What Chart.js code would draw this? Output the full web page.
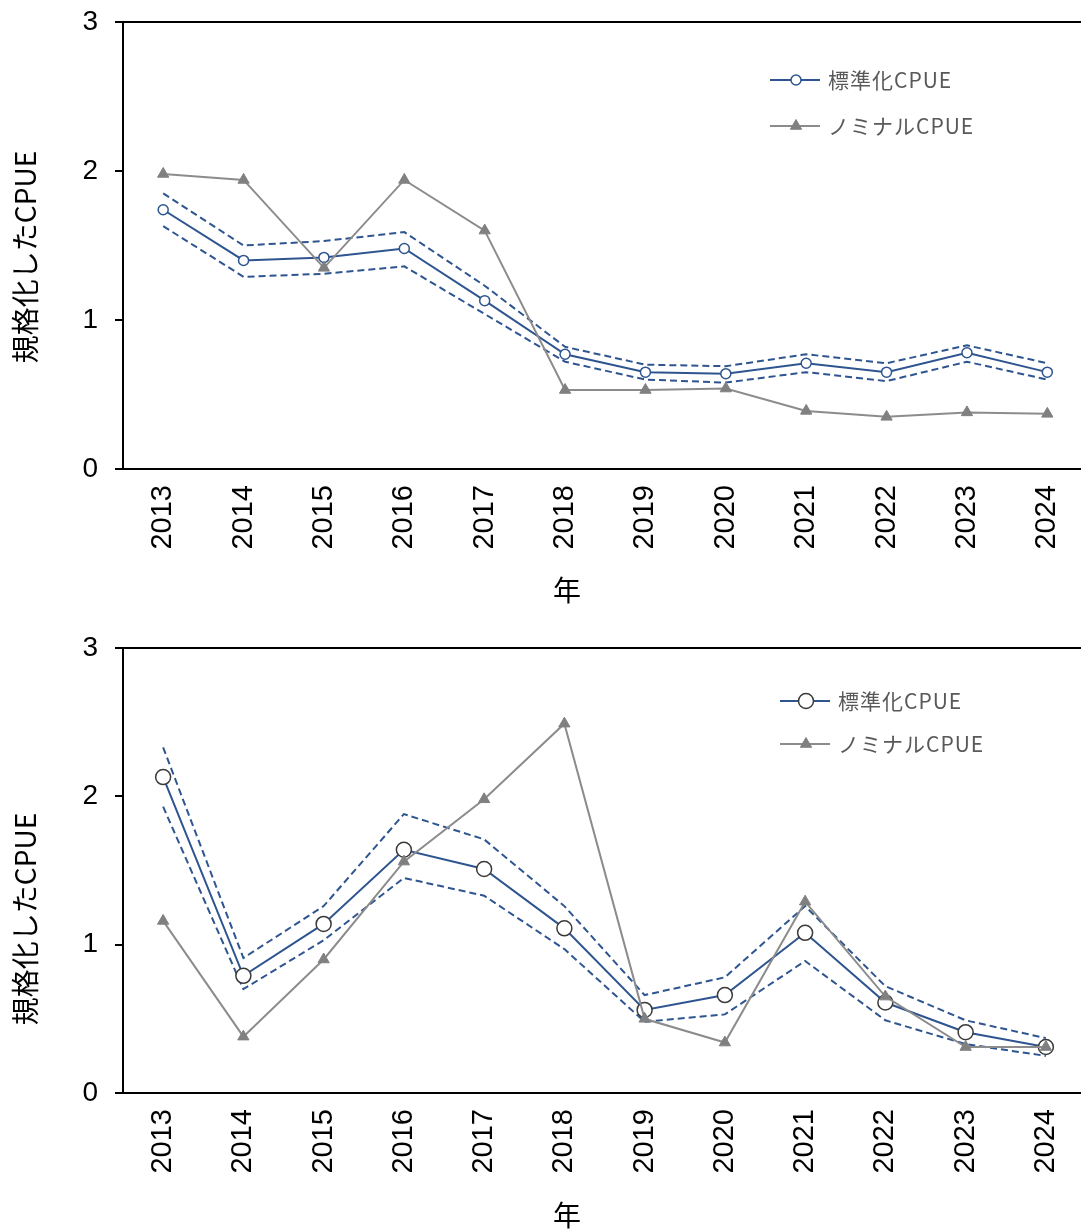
<!DOCTYPE html>
<html lang="ja">
<head>
<meta charset="utf-8">
<title>規格化したCPUE</title>
<script src="https://cdn.jsdelivr.net/npm/chart.js@4.4.1/dist/chart.umd.min.js"></script>
<style>
    html, body { margin: 0; padding: 0; background: #fff; overflow: hidden; }
    .panel { position: relative; width: 1095px; height: 615px; }
</style>
</head>
<body>
<div class="panel"><canvas id="top-chart"></canvas></div>
<div class="panel"><canvas id="bottom-chart"></canvas></div>
<script>
const years = ['2013', '2014', '2015', '2016', '2017', '2018', '2019', '2020', '2021', '2022', '2023', '2024'];
const yTicks = [0, 1, 2, 3];

// upper panel
const topStd     = [1.74, 1.40, 1.42, 1.48, 1.13, 0.77, 0.65, 0.64, 0.71, 0.65, 0.78, 0.65];
const topUpper   = [1.85, 1.50, 1.53, 1.59, 1.23, 0.82, 0.70, 0.69, 0.77, 0.71, 0.83, 0.71];
const topLower   = [1.63, 1.29, 1.31, 1.36, 1.04, 0.72, 0.60, 0.58, 0.65, 0.59, 0.72, 0.60];
const topNominal = [1.98, 1.94, 1.35, 1.94, 1.60, 0.53, 0.53, 0.54, 0.39, 0.35, 0.38, 0.37];

// lower panel
const botStd     = [2.13, 0.79, 1.14, 1.64, 1.51, 1.11, 0.56, 0.66, 1.08, 0.61, 0.41, 0.31];
const botUpper   = [2.33, 0.91, 1.26, 1.88, 1.71, 1.26, 0.66, 0.78, 1.26, 0.72, 0.49, 0.37];
const botLower   = [1.93, 0.70, 1.03, 1.45, 1.33, 0.97, 0.48, 0.53, 0.89, 0.49, 0.33, 0.25];
const botNominal = [1.16, 0.38, 0.90, 1.56, 1.98, 2.49, 0.50, 0.34, 1.29, 0.65, 0.31, 0.31];

const stdLabel = '標準化CPUE';
const nominalLabel = 'ノミナルCPUE';
const yTitle = '規格化したCPUE';
const xTitle = '年';

const NAVY = '#2e5590';
const GREY = '#8c8c8c';
const TICK_FONT = "'Liberation Sans', Arial, sans-serif";
const JP_FONT = "'Noto Sans CJK JP', 'Noto Sans', sans-serif";

// top and right edges of the plot box
const boxPlugin = {
    id: 'box',
    afterDraw(chart) {
        const { ctx, chartArea: a } = chart;
        ctx.save();
        ctx.strokeStyle = '#000';
        ctx.lineWidth = 2;
        ctx.beginPath();
        ctx.moveTo(a.left - 1, a.top);
        ctx.lineTo(a.right, a.top);
        ctx.lineTo(a.right, a.bottom);
        ctx.stroke();
        ctx.restore();
    }
};

// axis titles, placed where the original has them
const titlesPlugin = {
    id: 'axisTitles',
    afterDraw(chart, args, opts) {
        const { ctx } = chart;
        ctx.save();
        ctx.font = '28px ' + JP_FONT;
        ctx.fillStyle = '#000';
        ctx.textAlign = 'center';
        ctx.textBaseline = 'middle';
        ctx.fillText(opts.xText, opts.xAt[0], opts.xAt[1]);
        ctx.translate(opts.yAt[0], opts.yAt[1]);
        ctx.rotate(-Math.PI / 2);
        ctx.fillText(opts.yText, 0, 0);
        ctx.restore();
    }
};

// legend drawn inside the plot, using each dataset's own styles
const legendPlugin = {
    id: 'innerLegend',
    afterDraw(chart, args, opts) {
        const { ctx } = chart;
        opts.items.forEach((idx, row) => {
            const ds = chart.data.datasets[idx];
            const y = opts.y + row * opts.gap;
            ctx.save();
            ctx.strokeStyle = ds.borderColor;
            ctx.lineWidth = ds.borderWidth;
            ctx.beginPath();
            ctx.moveTo(opts.x, y);
            ctx.lineTo(opts.x + 50, y);
            ctx.stroke();

            ctx.fillStyle = ds.pointBackgroundColor;
            ctx.strokeStyle = ds.pointBorderColor;
            ctx.lineWidth = ds.pointBorderWidth;
            Chart.helpers.drawPoint(ctx, {
                pointStyle: ds.pointStyle,
                radius: ds.pointRadius,
                rotation: 0,
                borderWidth: ds.pointBorderWidth
            }, opts.x + 26, y);

            ctx.font = '21px ' + JP_FONT;
            ctx.letterSpacing = '1px';
            ctx.fillStyle = '#595959';
            ctx.textAlign = 'left';
            ctx.textBaseline = 'middle';
            ctx.fillText(ds.label, opts.textX, y);
            ctx.restore();
        });
    }
};

function makeChart(canvasId, std, upper, lower, nominal, look) {
    const band = values => ({
        label: '',
        data: values,
        borderColor: NAVY,
        borderWidth: 2,
        borderDash: [7, 4],
        pointRadius: 0,
        fill: false
    });

    return new Chart(document.getElementById(canvasId), {
        type: 'line',
        data: {
            labels: years,
            datasets: [
                {
                    label: nominalLabel,
                    data: nominal,
                    borderColor: GREY,
                    borderWidth: 2,
                    pointStyle: 'triangle',
                    pointRadius: 6.5,
                    pointBackgroundColor: '#808080',
                    pointBorderColor: '#808080',
                    pointBorderWidth: 1
                },
                {
                    label: stdLabel,
                    data: std,
                    borderColor: NAVY,
                    borderWidth: 2,
                    pointStyle: 'circle',
                    pointRadius: look.circleRadius,
                    pointBackgroundColor: '#fff',
                    pointBorderColor: look.circleBorder,
                    pointBorderWidth: 1.5
                },
                band(upper),
                band(lower)
            ]
        },
        options: {
            responsive: true,
            maintainAspectRatio: false,
            animation: false,
            layout: { padding: { top: look.padTop, right: 7, bottom: 0, left: 0 } },
            elements: { line: { tension: 0 } },
            scales: {
                x: {
                    offset: true,
                    grid: { display: false, drawTicks: false },
                    border: { display: true, color: '#000', width: 2 },
                    ticks: {
                        color: '#000',
                        font: { family: TICK_FONT, size: 29 },
                        padding: 16,
                        minRotation: 90,
                        maxRotation: 90,
                        autoSkip: false
                    },
                    afterFit: s => {
                        s.height = look.xHeight;
                        s.paddingLeft = 0;
                        s.paddingRight = 0;
                    }
                },
                y: {
                    min: 0,
                    max: 3,
                    afterBuildTicks: s => { s.ticks = yTicks.map(v => ({ value: v })); },
                    grid: {
                        drawOnChartArea: false,
                        drawTicks: true,
                        tickLength: 8,
                        color: '#000',
                        lineWidth: 2
                    },
                    border: { display: true, color: '#000', width: 2 },
                    ticks: {
                        color: '#000',
                        font: { family: TICK_FONT, size: 28 },
                        padding: 17
                    },
                    afterFit: s => {
                        s.width = 123;
                        s.paddingTop = 0;
                        s.paddingBottom = 0;
                    }
                }
            },
            plugins: {
                legend: { display: false },
                tooltip: { enabled: false },
                axisTitles: { xText: xTitle, xAt: [567, look.xTitleY], yText: yTitle, yAt: [25, look.yTitleY] },
                innerLegend: { items: [1, 0], x: look.legendX, y: look.legendY, gap: look.legendGap, textX: look.legendX + 58 }
            }
        },
        plugins: [boxPlugin, titlesPlugin, legendPlugin]
    });
}

makeChart('top-chart', topStd, topUpper, topLower, topNominal, {
    padTop: 22, xHeight: 146, xTitleY: 590, yTitleY: 257,
    legendX: 770, legendY: 80, legendGap: 46,
    circleRadius: 5, circleBorder: NAVY
});

makeChart('bottom-chart', botStd, botUpper, botLower, botNominal, {
    padTop: 33, xHeight: 137, xTitleY: 600, yTitleY: 304,
    legendX: 780, legendY: 86, legendGap: 43,
    circleRadius: 7.5, circleBorder: '#3a3a3a'
});
</script>
</body>
</html>
